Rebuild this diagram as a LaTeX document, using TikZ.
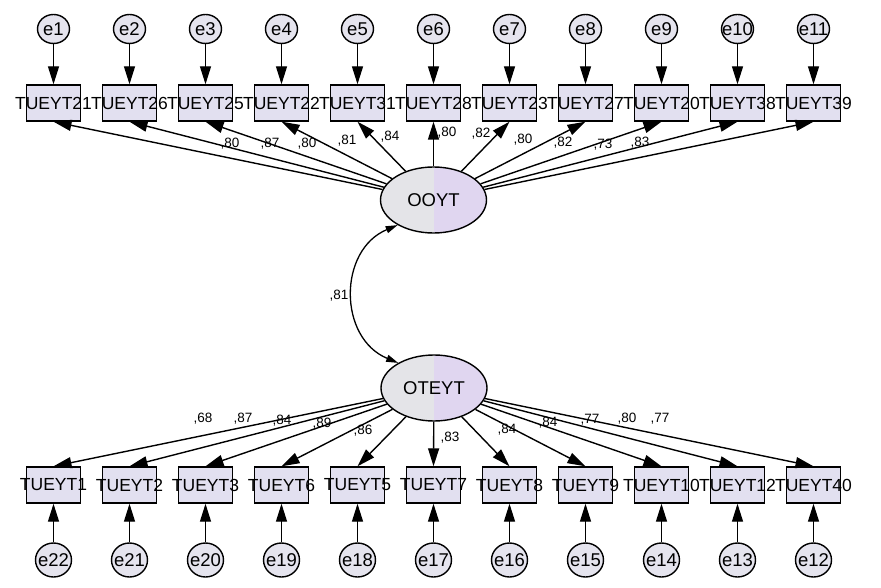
\documentclass[tikz,border=0pt]{standalone}
\usepackage{fontspec}
\setmainfont{Liberation Sans}
\usetikzlibrary{arrows.meta,shapes.geometric}
\definecolor{boxfill}{RGB}{226,224,240}
\definecolor{errfill}{RGB}{229,228,238}
\definecolor{latL}{RGB}{228,228,232}
\definecolor{latR}{RGB}{224,214,240}
\newcommand{\zb}[1]{\makebox[0pt]{#1}}
\begin{document}
\begin{tikzpicture}[x=1pt,y=-1pt,
  obs/.style={draw, line width=1.4pt, fill=boxfill, minimum width=54pt, minimum height=36pt, inner sep=0pt, font=\fontsize{17.5}{17.5}\selectfont},
  err/.style={draw, ellipse, line width=1.4pt, fill=errfill, inner sep=0pt, font=\fontsize{18.5}{18.5}\selectfont},
  errtop/.style={err, minimum width=32pt, minimum height=29pt},
  errbot/.style={err, minimum width=36pt, minimum height=34pt},
  lat/.style={draw, ellipse, line width=1.4pt, fill=latL, minimum width=106pt, minimum height=66pt, inner sep=0pt,
    font=\fontsize{18.5}{18.5}\selectfont,
    path picture={\fill[latR] (path picture bounding box.north) rectangle (path picture bounding box.south east);}},
  arr/.style={line width=1.4pt, -{Triangle[length=18pt,width=11pt]}},
  cov/.style={line width=1.3pt, {Triangle[length=12pt,width=7pt]}-{Triangle[length=12pt,width=7pt]}},
  ld/.style={font=\fontsize{13.5}{13.5}\selectfont, inner sep=0pt}
]
\useasboundingbox (0,0) rectangle (881,588);
\fill[white] (0,0) rectangle (881,588);

% latent variables
\node[lat] (ooyt) at (433.5,200) {\zb{OOYT}};
\node[lat] (oteyt) at (434,388) {\zb{OTEYT}};

% top row
\foreach \lab [count=\i] in {TUEYT21,TUEYT26,TUEYT25,TUEYT22,TUEYT31,TUEYT28,TUEYT23,TUEYT27,TUEYT20,TUEYT38,TUEYT39} {
  \node[obs] (t\i) at ({53.5+76*(\i-1)},103) {\zb{\lab}};
  \node[errtop] (et\i) at ({53.5+76*(\i-1)},29) {\zb{e\i}};
  \draw[arr] (et\i) -- (t\i.north);
  \draw[arr] (ooyt) -- (t\i.south);
}

% bottom row
\foreach \lab [count=\i] in {TUEYT1,TUEYT2,TUEYT3,TUEYT6,TUEYT5,TUEYT7,TUEYT8,TUEYT9,TUEYT10,TUEYT12,TUEYT40} {
  \pgfmathtruncatemacro{\en}{23-\i}
  \node[obs] (b\i) at ({53.5+76*(\i-1)},485) {\zb{\lab}};
  \node[errbot] (eb\i) at ({53.5+76*(\i-1)},560) {\zb{e\en}};
  \draw[arr] (eb\i) -- (b\i.south);
  \draw[arr] (oteyt) -- (b\i.north);
}

% covariance
\draw[cov] (ooyt.215) .. controls (338,250) and (338,338) .. (oteyt.145);
\node[ld] (c1) at (339,296) {,81};

% top loadings
\foreach \x/\y/\t [count=\i] in {230/144/{,80},270/144/{,87},307/144/{,80},347/141/{,81},390/137/{,84},447/133/{,80},481/134/{,82},523/140/{,80},563/143/{,82},603/145/{,73},640/143/{,83}}
  \node[ld] (lt\i) at (\x,\y) {\t};

% bottom loadings
\foreach \x/\y/\t [count=\i] in {203/419/{,68},243/419/{,87},282/421/{,84},322/424/{,89},363/431/{,86},450/438/{,83},507/430/{,84},548/423/{,84},590/420/{,77},627/419/{,80},660/419/{,77}}
  \node[ld] (lb\i) at (\x,\y) {\t};
\end{tikzpicture}
\end{document}
